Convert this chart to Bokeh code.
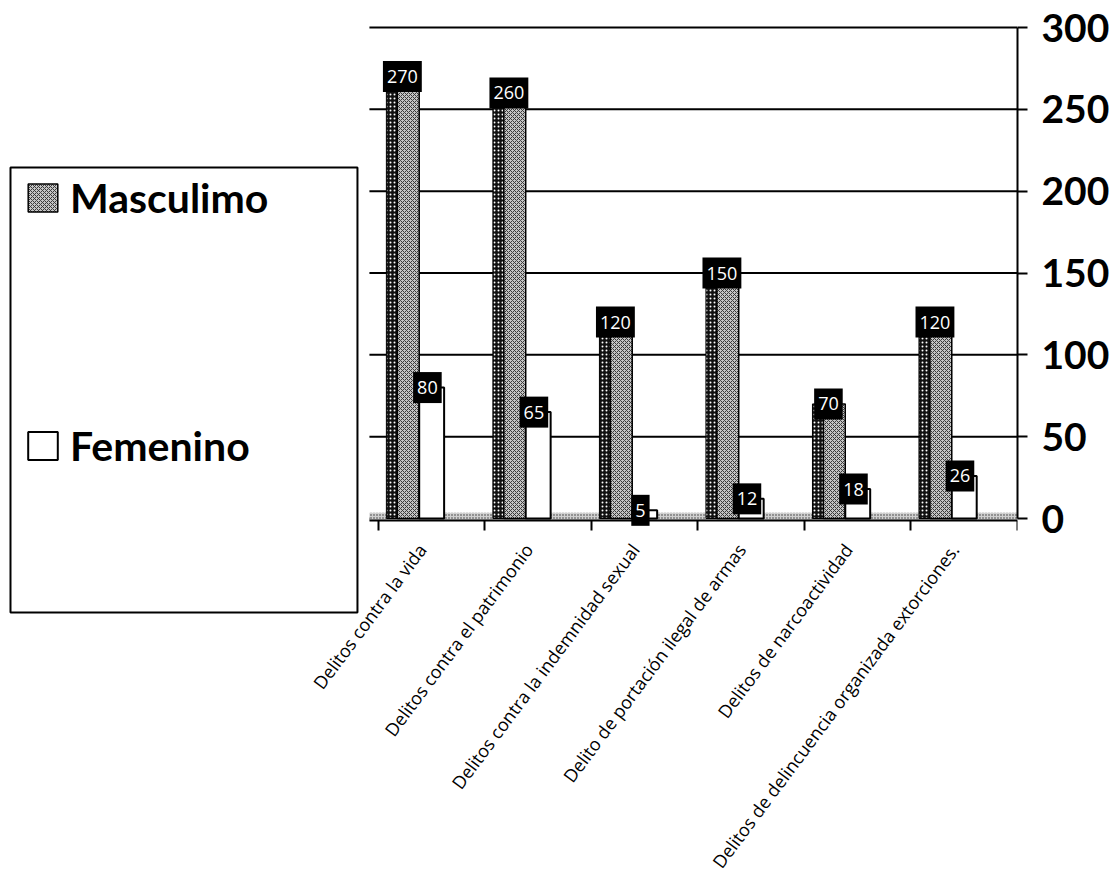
from bokeh.plotting import figure
from bokeh.models import Range1d, FixedTicker, Legend, LegendItem, ColumnDataSource, BoxAnnotation
from bokeh.transform import dodge
from bokeh.core.properties import value
from bokeh.embed import file_html
from bokeh.resources import INLINE

categories = [
    "Delitos contra la vida",
    "Delitos contra el patrimonio",
    "Delitos contra la indemnidad sexual",
    "Delito de portación ilegal de armas",
    "Delitos de narcoactividad",
    "Delitos de delincuencia organizada extorciones.",
]
masculino = [270, 260, 120, 150, 70, 120]
femenino = [80, 65, 5, 12, 18, 26]
series_names = ["Masculimo", "Femenino"]
y_ticks = [0, 50, 100, 150, 200, 250, 300]

n = len(categories)
idx = list(range(n))
src = ColumnDataSource(dict(
    x=idx,
    m=masculino,
    f=femenino,
    m_txt=[str(v) for v in masculino],
    f_txt=[str(v) for v in femenino],
))

# ---- layout geometry (pixels) ----
W, H = 1112, 874
FL, FR, FT, FB = 8, 1020, 25, 868          # frame edges
CAT0 = 379                                 # left edge of first category
Y0, Y300 = 518, 27                         # pixel rows of 0 and 300
kx = (FR - CAT0) / n
ky = (Y0 - Y300) / 300.0
x_start = -(CAT0 - FL) / kx
y_end = 300 + (Y300 - FT) / ky
y_start = -(FB - Y0) / ky
def xd(px): return (px - CAT0) / kx
def yd(py): return (Y0 - py) / ky

p = figure(width=W, height=H,
           x_range=Range1d(x_start, n), y_range=Range1d(y_start, y_end),
           y_axis_location="right", output_backend="svg", toolbar_location=None,
           min_border_left=FL, min_border_top=FT, min_border_bottom=H - FB,
           min_border_right=W - FR)
p.outline_line_color = None
p.background_fill_color = "white"
p.border_fill_color = "white"
p.xgrid.visible = False
p.ygrid.visible = False

GX0 = xd(370)
# horizontal grid lines
p.segment(x0=[GX0] * len(y_ticks), x1=[n] * len(y_ticks), y0=y_ticks, y1=y_ticks,
          line_color="black", line_width=2)

# floor
p.quad(left=[GX0], right=[n], bottom=[-1.5], top=[3.5],
       fill_color="#d0d0d0", hatch_pattern="dot", hatch_color="#333333", hatch_scale=3,
       line_color=None)

# Masculino: dark side + hatched face
p.vbar(x=dodge("x", 0.1265, range=p.x_range), top="m", bottom=0, width=0.103, source=src,
       fill_color="#111111", hatch_pattern="dot", hatch_color="white", hatch_scale=4,
       hatch_weight=1, line_color="black", line_width=1)
face = p.vbar(x=dodge("x", 0.2805, range=p.x_range), top="m", bottom=0, width=0.205, source=src,
              fill_color="#c4c4c4", hatch_pattern="diagonal_cross", hatch_color="#3a3a3a",
              hatch_scale=4, hatch_weight=1, line_color="black", line_width=1.5)
fem = p.vbar(x=dodge("x", 0.5, range=p.x_range), top="f", bottom=0, width=0.234, source=src,
             fill_color="white", line_color="black", line_width=2)

# value labels
p.text(x=dodge("x", 0.225, range=p.x_range), y="m", text="m_txt", source=src,
       text_color="white", text_font=value("Open Sans"), text_font_size="18px",
       text_align="center", text_baseline="middle",
       background_fill_color="black", padding=(4, 9))
p.text(x=dodge("x", 0.46, range=p.x_range), y="f", text="f_txt", source=src,
       text_color="white", text_font=value("Open Sans"), text_font_size="18px",
       text_align="center", text_baseline="middle",
       background_fill_color="black", padding=(4, 9))

# y axis (right)
yax = p.yaxis[0]
yax.ticker = FixedTicker(ticks=y_ticks)
yax.bounds = (0, 300)
yax.axis_line_width = 2
yax.axis_line_color = "black"
yax.major_tick_out = 10
yax.major_tick_in = 0
yax.major_tick_line_width = 2
yax.minor_tick_line_color = None
yax.major_label_text_font = "Lato"
yax.major_label_text_font_size = "39px"
yax.major_label_text_font_style = "bold"
yax.major_label_text_color = "black"
yax.major_label_standoff = 14

# x axis (fixed at floor)
xax = p.xaxis[0]
label_pos = [i + 0.41 for i in idx]
xax.fixed_location = -1.5
xax.bounds = (GX0, n)
xax.ticker = FixedTicker(ticks=label_pos, minor_ticks=list(range(n + 1)))
xax.major_label_overrides = {c: lab for c, lab in zip(label_pos, categories)}
xax.major_tick_out = 0
xax.major_tick_in = 0
xax.minor_tick_out = 10
xax.minor_tick_in = 0
xax.minor_tick_line_width = 2
xax.minor_tick_line_color = "black"
xax.axis_line_width = 2
xax.axis_line_color = "black"
xax.major_label_orientation = 0.93
xax.major_label_text_font = "Open Sans"
xax.major_label_text_font_size = "18px"
xax.major_label_text_color = "black"
xax.major_label_standoff = 15

# legend frame
p.add_layout(BoxAnnotation(left=xd(10), right=xd(358), top=yd(167), bottom=yd(612),
                           fill_alpha=0, line_color="black", line_width=2, line_alpha=1))

leg = Legend(items=[LegendItem(label=series_names[0], renderers=[face]),
                    LegendItem(label=series_names[1], renderers=[fem])],
             location=(16, 395), glyph_width=37, glyph_height=35,
             label_height=56, spacing=192, padding=0, margin=0, label_standoff=9,
             label_text_font="Lato", label_text_font_size="41px",
             label_text_font_style="bold", label_text_color="black",
             border_line_color=None, background_fill_alpha=0)
p.add_layout(leg, "center")

open("out.html", "w").write(file_html(p, INLINE))
